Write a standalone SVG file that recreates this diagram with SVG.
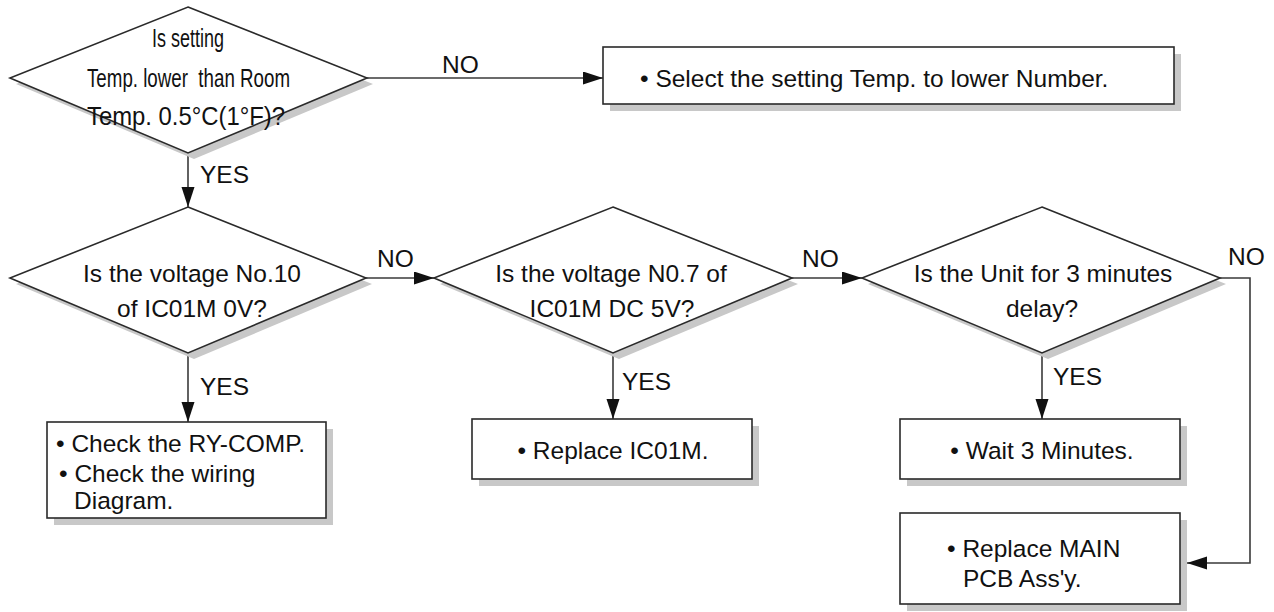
<svg xmlns="http://www.w3.org/2000/svg" width="1274" height="612" viewBox="0 0 1274 612">
<style>
  .shape { fill: #ffffff; stroke: #2a2a2a; stroke-width: 1.6; }
  .shadow { fill: #c8c8c8; stroke: none; }
  .t { font-family: "Liberation Sans", Arial, sans-serif; font-size: 24.5px; fill: #111; }
  .n { font-size: 26.5px; }
  .c { text-anchor: middle; }
  .conn { fill: none; stroke: #3a3a3a; stroke-width: 1.6; }
</style>
<defs>
  <marker id="arr" markerUnits="userSpaceOnUse" markerWidth="21" markerHeight="14" refX="20" refY="6.5" orient="auto">
    <path d="M0,0 L20,6.5 L0,13 z" fill="#111"/>
  </marker>
</defs>
<rect x="0" y="0" width="1274" height="612" fill="#ffffff"/>

<g id="connectors">
  <line class="conn" x1="367" y1="78" x2="603" y2="78" marker-end="url(#arr)"/>
  <line class="conn" x1="188" y1="153" x2="188" y2="207" marker-end="url(#arr)"/>
  <line class="conn" x1="366" y1="278" x2="434" y2="278" marker-end="url(#arr)"/>
  <line class="conn" x1="792" y1="278" x2="862" y2="278" marker-end="url(#arr)"/>
  <line class="conn" x1="188" y1="353" x2="188" y2="422" marker-end="url(#arr)"/>
  <line class="conn" x1="613" y1="353" x2="613" y2="419" marker-end="url(#arr)"/>
  <line class="conn" x1="1042" y1="353" x2="1042" y2="419" marker-end="url(#arr)"/>
  <polyline class="conn" points="1220,278 1250,278 1250,563 1187,563" marker-end="url(#arr)"/>
  <text class="t" x="442" y="73">NO</text>
  <text class="t" x="200" y="183">YES</text>
  <text class="t" x="377" y="267">NO</text>
  <text class="t" x="200" y="395">YES</text>
  <text class="t" x="802" y="267">NO</text>
  <text class="t" x="622" y="390">YES</text>
  <text class="t" x="1228" y="265">NO</text>
  <text class="t" x="1053" y="385">YES</text>
</g>

<g id="d1">
  <polygon class="shadow" points="194,13 373,84 194,159 16,84"/>
  <polygon class="shape" points="188,7 367,78 188,153 10,78"/>
  <text class="t n" x="152" y="47" textLength="72" lengthAdjust="spacingAndGlyphs">Is setting</text>
  <text class="t n" x="87" y="87" textLength="203" lengthAdjust="spacingAndGlyphs" xml:space="preserve">Temp. lower  than Room</text>
  <text class="t n" x="87" y="125" textLength="198" lengthAdjust="spacingAndGlyphs">Temp. 0.5°C(1°F)?</text>
</g>

<g id="b1">
  <rect class="shadow" x="610" y="54" width="571" height="57"/>
  <rect class="shape" x="603" y="47" width="571" height="57"/>
  <text class="t" x="640" y="87">• Select the setting Temp. to lower Number.</text>
</g>

<g id="d2">
  <polygon class="shadow" points="194,213 372,284 194,359 16,284"/>
  <polygon class="shape" points="188,207 366,278 188,353 10,278"/>
  <text class="t c" x="192" y="282">Is the voltage No.10</text>
  <text class="t c" x="192" y="317">of IC01M 0V?</text>
</g>

<g id="d3">
  <polygon class="shadow" points="619,213 798,284 619,359 440,284"/>
  <polygon class="shape" points="613,207 792,278 613,353 434,278"/>
  <text class="t c" x="611" y="282">Is the voltage N0.7 of</text>
  <text class="t c" x="612" y="317">IC01M DC 5V?</text>
</g>

<g id="d4">
  <polygon class="shadow" points="1048,213 1226,284 1048,359 868,284"/>
  <polygon class="shape" points="1042,207 1220,278 1042,353 862,278"/>
  <text class="t c" x="1043" y="282">Is the Unit for 3 minutes</text>
  <text class="t c" x="1042" y="317">delay?</text>
</g>

<g id="b2">
  <rect class="shadow" x="54" y="429" width="279" height="96"/>
  <rect class="shape" x="47" y="422" width="279" height="96"/>
  <text class="t" x="56" y="452">• Check the RY-COMP.</text>
  <text class="t" x="59" y="482">• Check the wiring</text>
  <text class="t" x="74" y="509">Diagram.</text>
</g>

<g id="b3">
  <rect class="shadow" x="479" y="426" width="280" height="60"/>
  <rect class="shape" x="472" y="419" width="280" height="60"/>
  <text class="t c" x="613" y="459">• Replace IC01M.</text>
</g>

<g id="b4">
  <rect class="shadow" x="907" y="426" width="280" height="60"/>
  <rect class="shape" x="900" y="419" width="280" height="60"/>
  <text class="t c" x="1042" y="459">• Wait 3 Minutes.</text>
</g>

<g id="b5">
  <rect class="shadow" x="907" y="520" width="280" height="91"/>
  <rect class="shape" x="900" y="513" width="280" height="91"/>
  <text class="t" x="947" y="557">• Replace MAIN</text>
  <text class="t" x="963" y="587">PCB Ass'y.</text>
</g>
</svg>
